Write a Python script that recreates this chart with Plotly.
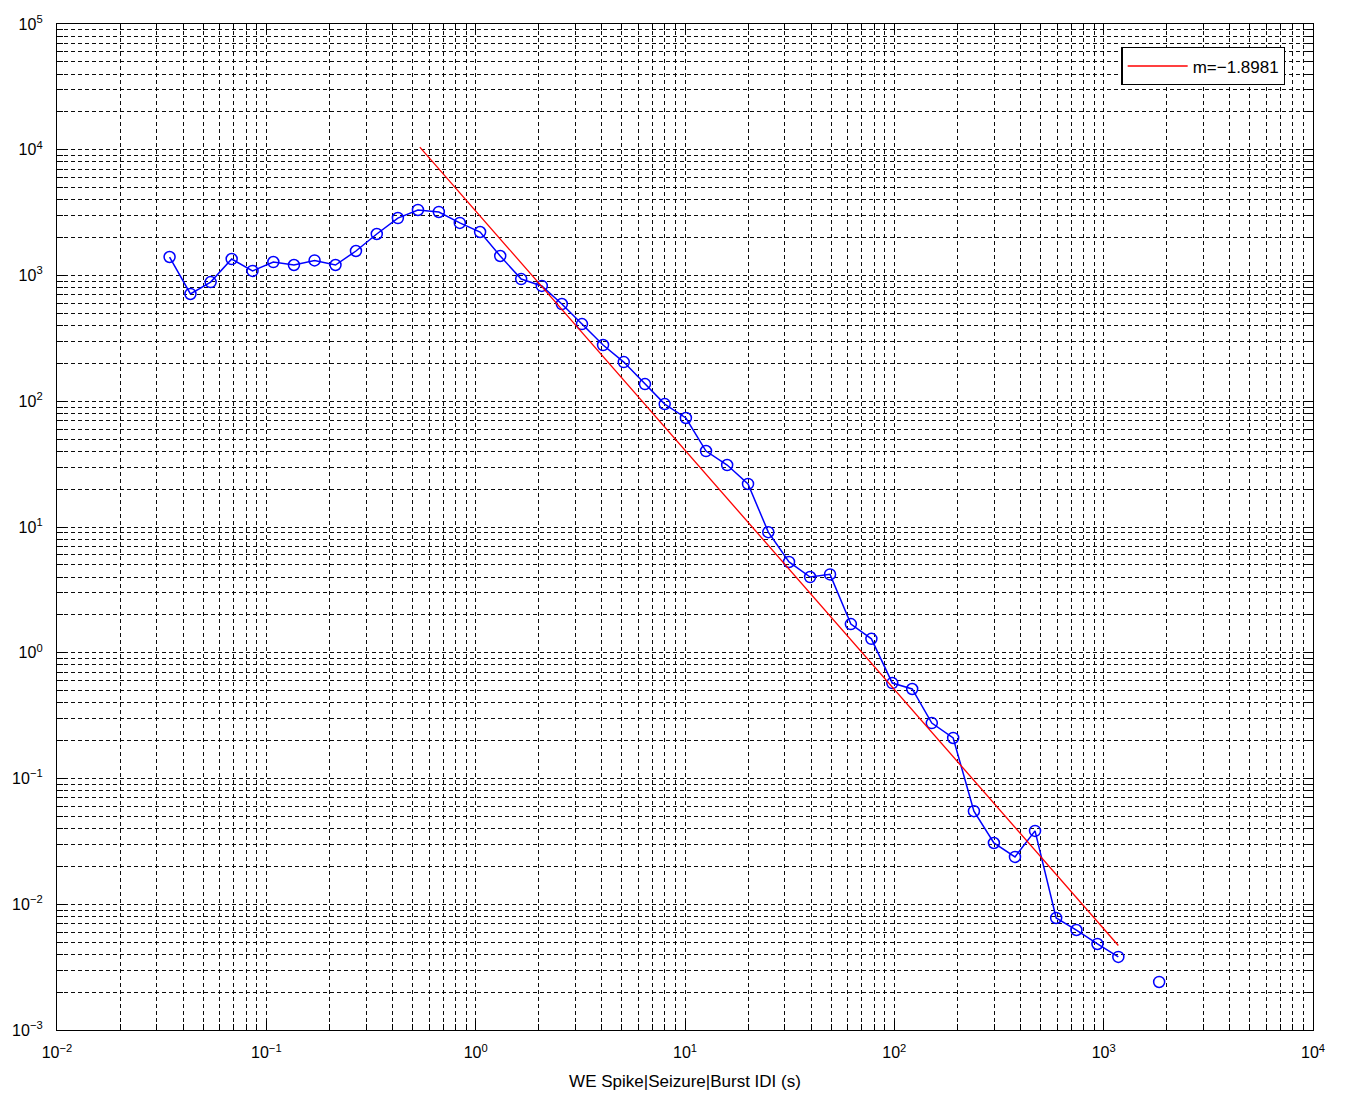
import plotly.graph_objects as go

# Data
idi_x = [0.0345, 0.0434, 0.0542, 0.0683, 0.0859, 0.108, 0.1355, 0.170, 0.214, 0.268,
         0.337, 0.425, 0.53, 0.667, 0.84, 1.05, 1.31, 1.65, 2.07, 2.58,
         3.22, 4.06, 5.1, 6.44, 8.0, 10.1, 12.6, 15.9, 20.0, 25.0,
         31.4, 39.6, 49.3, 62.0, 77.7, 97.8, 121.7, 151, 191, 240,
         299, 377, 470, 593, 741, 934, 1175, 1470, 1841]
idi_y = [1403, 713, 887, 1352, 1087, 1280, 1212, 1318, 1212, 1566,
         2138, 2864, 3319, 3200, 2618, 2218, 1429, 937, 826, 593,
         411, 280, 205, 137, 95, 73.6, 40.2, 31.1, 22.0, 9.1,
         5.27, 4.0, 4.2, 1.69, 1.29, 0.574, 0.515, 0.276, 0.21, 0.055,
         0.0307, 0.0238, 0.0383, 0.00778, 0.00624, 0.00483, 0.00381, None, 0.00241]

fit_x = [0.541, 1175]
fit_y = [10500, 0.0047]
fit_label = "m=\u22121.8981"

x_title = "WE Spike|Seizure|Burst IDI (s)"

x_exps = [-2, -1, 0, 1, 2, 3, 4]
y_exps = [-3, -2, -1, 0, 1, 2, 3, 4, 5]


def sup(e):
    s = str(e).replace("-", "\u2212")
    return "10<sup>" + s + "</sup>"


def minor_vals(exps):
    return [m * 10.0 ** e for e in exps[:-1] for m in range(2, 10)]


FONT = "Liberation Sans, Arial, sans-serif"
GRID = "rgba(0,0,0,0.95)"
DASH = "4px,3px"

fig = go.Figure()
fig.add_trace(go.Scatter(
    x=idi_x, y=idi_y, mode="lines+markers",
    line=dict(color="#0000ff", width=1.5),
    marker=dict(symbol="circle-open", size=11, color="#0000ff", line=dict(width=1.5)),
    connectgaps=False, showlegend=False))
fig.add_trace(go.Scatter(
    x=fit_x, y=fit_y, mode="lines",
    line=dict(color="#ff0000", width=1.3),
    name=fit_label, showlegend=True))


def axis_common(exps):
    return dict(
        type="log", tickmode="array", automargin=False,
        tickvals=[10.0 ** e for e in exps], ticktext=[sup(e) for e in exps],
        showline=True, linecolor="black", linewidth=1.3, mirror="allticks",
        ticks="inside", ticklen=9, tickcolor="black",
        showgrid=True, gridcolor=GRID, griddash=DASH, gridwidth=1,
        zeroline=False,
        tickfont=dict(family=FONT, size=16, color="black"),
        minor=dict(ticks="inside", ticklen=6, tickcolor="black",
                   tickmode="array", tickvals=minor_vals(exps),
                   showgrid=True, gridcolor=GRID, griddash=DASH, gridwidth=1),
    )


fig.update_xaxes(range=[-2, 4], **axis_common(x_exps), ticklabelstandoff=8,
                 title=dict(text=x_title, standoff=14,
                            font=dict(family=FONT, size=17, color="black")))
fig.update_yaxes(range=[-3, 5], **axis_common(y_exps), ticklabelstandoff=10)

fig.update_layout(
    width=1345, height=1096,
    margin=dict(l=57, r=32, t=24, b=66),
    paper_bgcolor="white", plot_bgcolor="white",
    legend=dict(x=0.978, y=0.977, xanchor="right", yanchor="top",
                bgcolor="white", bordercolor="black", borderwidth=1.3,
                font=dict(family=FONT, size=17, color="black"),
                itemwidth=60, tracegroupgap=0),
)

fig.write_html("out.html")
